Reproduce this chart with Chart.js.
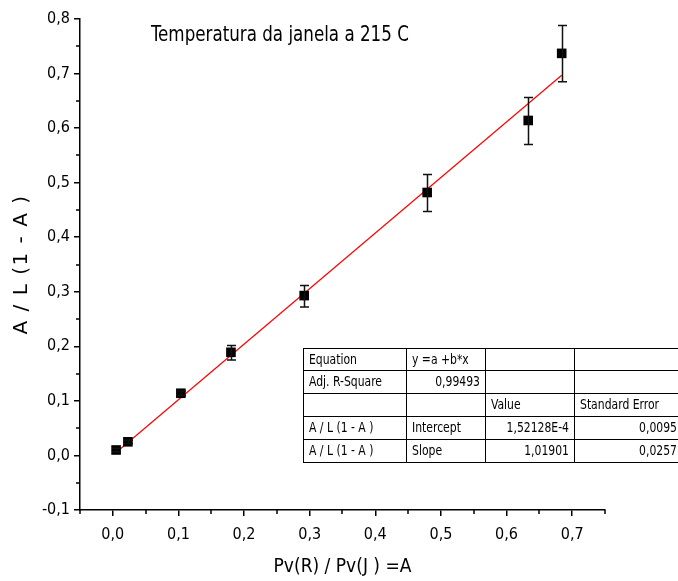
<!DOCTYPE html>
<html>
<head>
<meta charset="utf-8">
<script src="https://cdn.jsdelivr.net/npm/chart.js@4/dist/chart.umd.min.js"></script>
<style>
html,body{margin:0;padding:0;background:#fff;}
#wrap{position:relative;width:678px;height:581px;}
</style>
</head>
<body>
<div id="wrap"><canvas id="c" width="678" height="581"></canvas></div>
<script>
// ---- data ----
const xValues   = [0.005, 0.023, 0.1037, 0.180, 0.2916, 0.479, 0.633, 0.684];
const yValues   = [0.010, 0.025, 0.114, 0.189, 0.293, 0.482, 0.614, 0.737];
const yErrLow   = [0.007, 0.022, 0.110, 0.175, 0.272, 0.447, 0.570, 0.685];
const yErrHigh  = [0.013, 0.028, 0.118, 0.2015, 0.3116, 0.515, 0.656, 0.788];
const fitX      = [0.005, 0.684];
const fitY      = [0.0053, 0.697];
const xTickVals = [0, 0.1, 0.2, 0.3, 0.4, 0.5, 0.6, 0.7];
const yTickVals = [-0.1, 0, 0.1, 0.2, 0.3, 0.4, 0.5, 0.6, 0.7, 0.8];
const xMinorVals = [-0.05, 0.05, 0.15, 0.25, 0.35, 0.45, 0.55, 0.65, 0.75];
const yMinorVals = [-0.05, 0.05, 0.15, 0.25, 0.35, 0.45, 0.55, 0.65, 0.75];
const chartTitle = 'Temperatura da janela a 215 C';
const xTitle = 'Pv(R) / Pv(J ) =A';
const yTitle = 'A / L (1 - A )';
const tableRows = [
  ['Equation', 'y =a +b*x', '', ''],
  ['Adj. R-Square', '0,99493', '', ''],
  ['', '', 'Value', 'Standard Error'],
  ['A / L (1 - A )', 'Intercept', '1,52128E-4', '0,0095'],
  ['A / L (1 - A )', 'Slope', '1,01901', '0,0257']
];

const FONT = "'DejaVu Sans Condensed', 'DejaVu Sans', sans-serif";
const fmt = v => (Math.round(v * 10) / 10).toFixed(1).replace('.', ',');

const extras = {
  id: 'extras',
  afterDatasetsDraw(chart) {
    const ctx = chart.ctx;
    const xs = chart.scales.x, ys = chart.scales.y;
    ctx.save();
    // minor ticks
    ctx.strokeStyle = '#000';
    ctx.lineWidth = 1.5;
    ctx.beginPath();
    xMinorVals.forEach(v => {
      const px = Math.round(xs.getPixelForValue(v));
      ctx.moveTo(px, ys.bottom); ctx.lineTo(px, ys.bottom + 4);
    });
    yMinorVals.forEach(v => {
      const py = Math.round(ys.getPixelForValue(v));
      ctx.moveTo(xs.left, py); ctx.lineTo(xs.left - 4, py);
    });
    ctx.stroke();
    // error bars
    ctx.lineWidth = 1.5;
    ctx.strokeStyle = '#111';
    ctx.beginPath();
    xValues.forEach((xv, i) => {
      const px = Math.round(xs.getPixelForValue(xv)) + 0.5;
      const pl = ys.getPixelForValue(yErrLow[i]);
      const ph = ys.getPixelForValue(yErrHigh[i]);
      ctx.moveTo(px, pl); ctx.lineTo(px, ph);
      ctx.moveTo(px - 4.5, pl); ctx.lineTo(px + 4.5, pl);
      ctx.moveTo(px - 4.5, ph); ctx.lineTo(px + 4.5, ph);
    });
    ctx.stroke();
    ctx.restore();
  },
  afterDraw(chart) {
    const ctx = chart.ctx;
    const ca = chart.chartArea;
    ctx.save();
    // title inside plot
    ctx.fillStyle = '#000';
    ctx.font = '21px ' + FONT;
    ctx.textAlign = 'left';
    ctx.textBaseline = 'alphabetic';
    ctx.save();
    ctx.translate(151, 41);
    ctx.scale(0.885, 1);
    ctx.fillText(chartTitle, 0, 0);
    ctx.restore();
    // y axis title
    ctx.save();
    ctx.translate(22, (ca.top + ca.bottom) / 2);
    ctx.rotate(-Math.PI / 2);
    ctx.font = "20px 'DejaVu Sans', sans-serif";
    if ('letterSpacing' in ctx) ctx.letterSpacing = '1.5px';
    ctx.textAlign = 'center';
    ctx.textBaseline = 'middle';
    ctx.fillText(yTitle, 0, 0);
    ctx.restore();
    // table
    const colX = [303, 406, 485, 574, 682];
    const rowY = [348.5, 370.5, 393.5, 416.5, 439.5, 462.5];
    ctx.fillStyle = '#fff';
    ctx.fillRect(colX[0], rowY[0], colX[4] - colX[0], rowY[5] - rowY[0]);
    ctx.strokeStyle = '#000';
    ctx.lineWidth = 1;
    ctx.beginPath();
    rowY.forEach(y => { ctx.moveTo(colX[0], y); ctx.lineTo(colX[4], y); });
    colX.forEach(x => { ctx.moveTo(x + 0.5, rowY[0]); ctx.lineTo(x + 0.5, rowY[5]); });
    ctx.stroke();
    ctx.fillStyle = '#000';
    ctx.font = '14px ' + FONT;
    ctx.textBaseline = 'middle';
    const sx = 0.86;
    tableRows.forEach((row, r) => {
      const cy = (rowY[r] + rowY[r + 1]) / 2 + 0.5;
      row.forEach((txt, c) => {
        if (!txt) return;
        const numeric = /^[0-9]/.test(txt);
        ctx.save();
        if (numeric) {
          ctx.translate(colX[c + 1] - 5, cy);
          ctx.scale(sx, 1);
          ctx.textAlign = 'right';
        } else {
          ctx.translate(colX[c] + 6, cy);
          ctx.scale(sx, 1);
          ctx.textAlign = 'left';
        }
        ctx.fillText(txt, 0, 0);
        ctx.restore();
      });
    });
    ctx.restore();
  }
};

new Chart(document.getElementById('c'), {
  type: 'scatter',
  data: {
    datasets: [
      {
        type: 'line',
        label: 'fit',
        data: fitX.map((x, i) => ({x: x, y: fitY[i]})),
        borderColor: '#ff0000',
        borderWidth: 1.2,
        pointRadius: 0,
        fill: false,
        order: 2
      },
      {
        label: 'data',
        data: xValues.map((x, i) => ({x: x, y: yValues[i]})),
        pointStyle: 'rect',
        pointRadius: 6.8,
        backgroundColor: '#000',
        borderColor: '#000',
        borderWidth: 0,
        order: 1
      }
    ]
  },
  options: {
    responsive: false,
    animation: false,
    devicePixelRatio: 1,
    layout: { padding: { top: 19, right: 73, left: 0, bottom: 0 } },
    plugins: { legend: { display: false }, tooltip: { enabled: false }, title: { display: false } },
    scales: {
      x: {
        type: 'linear',
        min: -0.05, max: 0.75,
        afterBuildTicks: s => { s.ticks = xTickVals.map(v => ({value: v})); },
        afterFit: s => { s.height = 71; },
        grid: { display: true, drawOnChartArea: false, drawTicks: true, tickLength: 6, color: '#000', lineWidth: 1.5 },
        border: { display: true, color: '#000', width: 1.5 },
        ticks: { color: '#000', padding: 9, maxRotation: 0, font: { family: FONT, size: 16 }, callback: v => fmt(v) },
        title: { display: true, text: xTitle, color: '#000', font: { family: FONT, size: 19 }, padding: { top: 0, bottom: 3 } }
      },
      y: {
        type: 'linear',
        min: -0.1, max: 0.8,
        afterBuildTicks: s => { s.ticks = yTickVals.map(v => ({value: v})); },
        afterFit: s => { s.width = 80; },
        grid: { display: true, drawOnChartArea: false, drawTicks: true, tickLength: 6, color: '#000', lineWidth: 1.5 },
        border: { display: true, color: '#000', width: 1.5 },
        ticks: { color: '#000', padding: 4, font: { family: FONT, size: 16 }, callback: v => fmt(v) },
        title: { display: false, text: yTitle }
      }
    }
  },
  plugins: [extras]
});
</script>
</body>
</html>
